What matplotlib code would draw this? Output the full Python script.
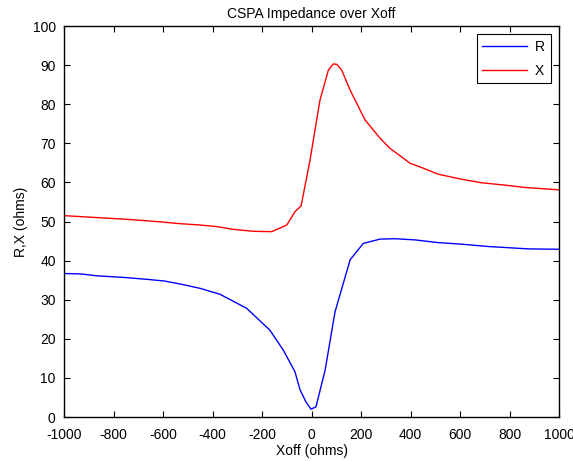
import matplotlib
matplotlib.use('Agg')
import matplotlib.pyplot as plt

plt.rcParams['font.family'] = ['Liberation Sans', 'DejaVu Sans']
plt.rcParams['axes.unicode_minus'] = False

# X (reactance) curve
x_X = [-1000, -919, -811, -731, -609, -542, -450, -383, -316, -235, -161, -100, -67, -42,
       -6, 34, 68, 88, 102, 122, 156, 216, 277, 317, 358, 398, 445, 512, 607, 688, 782, 863, 1000]
X = [51.5, 51.2, 50.8, 50.5, 49.9, 49.5, 49.1, 48.7, 48.0, 47.5, 47.4, 49.1, 52.5, 54.0,
     65.7, 81.0, 88.7, 90.3, 90.2, 88.7, 83.6, 76.0, 71.3, 68.7, 66.8, 64.9, 63.8, 62.1,
     60.8, 59.9, 59.3, 58.7, 58.1]

# R (resistance) curve
x_R = [-1000, -933, -865, -758, -663, -596, -529, -450, -370, -262, -168, -114, -67, -46,
       -22, -2, 18, 55, 95, 156, 209, 277, 337, 418, 512, 607, 715, 796, 876, 1000]
R = [36.7, 36.6, 36.1, 35.7, 35.2, 34.8, 34.0, 32.9, 31.4, 27.8, 22.2, 17.1, 11.6, 6.9,
     3.8, 2.0, 2.6, 12.0, 26.9, 40.2, 44.4, 45.5, 45.6, 45.3, 44.6, 44.2, 43.6, 43.3, 43.0, 42.9]

xticks = list(range(-1000, 1001, 200))
yticks = list(range(0, 101, 10))

fig = plt.figure(figsize=(5.73, 4.61), dpi=100)
ax = fig.add_axes([0.1117, 0.0954, 0.8639, 0.8482])

ax.plot(x_R, R, color='#0000ff', linewidth=1, label='R')
ax.plot(x_X, X, color='#ff0000', linewidth=1, label='X')

ax.set_xlim(-1000, 1000)
ax.set_ylim(0, 100)
ax.set_xticks(xticks)
ax.set_yticks(yticks)
ax.tick_params(direction='in', top=True, right=True, length=4, width=0.8,
               labelsize=10)
ax.tick_params(axis='x', pad=8)
ax.tick_params(axis='y', pad=6)
for s in ax.spines.values():
    s.set_linewidth(1)

ax.set_title('CSPA Impedance over Xoff', fontsize=10, pad=6)
ax.set_xlabel('Xoff (ohms)', fontsize=10, labelpad=1)
ax.set_ylabel('R,X (ohms)', fontsize=10, labelpad=3)

leg = ax.legend(loc='upper right', fontsize=10, fancybox=False, framealpha=1,
                edgecolor='black', borderaxespad=0.6, handlelength=3.2,
                borderpad=0.4, labelspacing=0.7, handletextpad=0.6)
leg.get_frame().set_linewidth(0.8)

fig.savefig('out.png', dpi=100)
